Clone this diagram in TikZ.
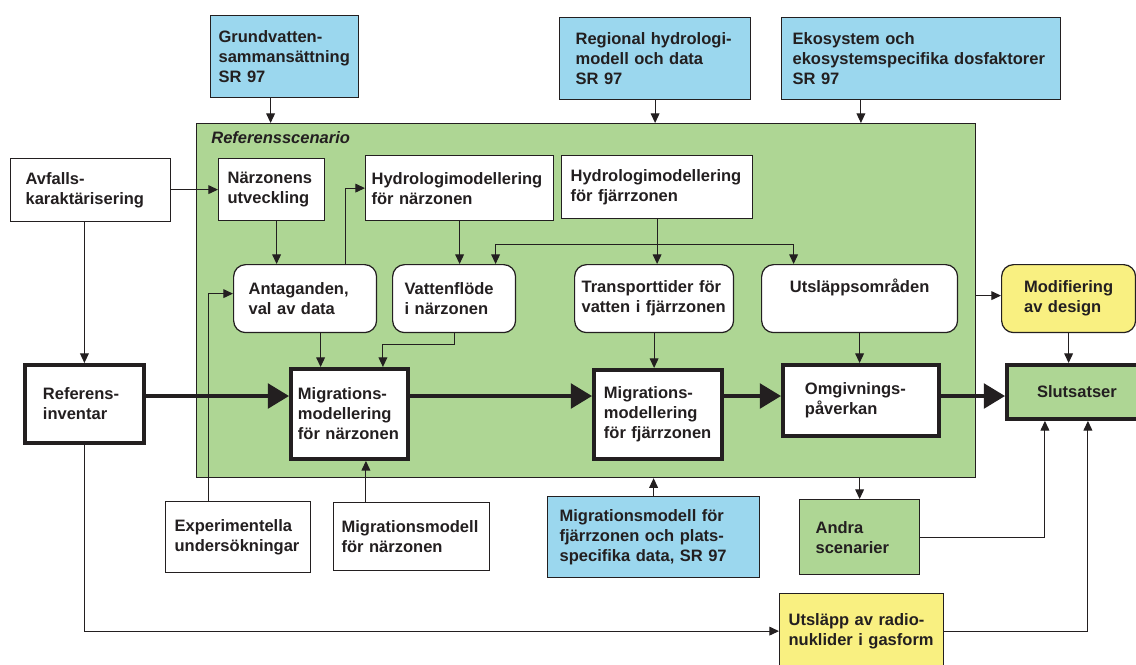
\documentclass[tikz,border=0pt]{standalone}
\usepackage{fontspec}
\setmainfont{Liberation Sans}
\usetikzlibrary{arrows.meta, calc}
\definecolor{ink}{RGB}{35,31,32}
\definecolor{scengreen}{RGB}{174,214,148}
\definecolor{inblue}{RGB}{155,215,238}
\definecolor{outyellow}{RGB}{249,240,129}

\begin{document}
\begin{tikzpicture}[x=0.02cm, y=-0.02cm, line join=miter,
	font=\fontsize{9.4}{11.4}\selectfont\bfseries,
	plainbox/.style={draw=ink, text=ink, line width=0.7pt, fill=white,
		anchor=north west, align=left, inner ysep=0pt},
	softbox/.style={plainbox, rounded corners=0.24cm},
	heavybox/.style={plainbox, line width=2.2pt},
	arr/.style={draw=ink, line width=0.6pt, -{Triangle[length=5.5pt,width=5pt]}},
	bigarr/.style={draw=ink, line width=2pt, -{Triangle[length=12pt,width=14pt]}}]
\useasboundingbox (0,0) rectangle (1136,664);

%========================
% Reference scenario frame
%========================
\node[plainbox, fill=scengreen, minimum width=15.58cm, minimum height=7.08cm, inner sep=0pt]
	(scen) at (196,123) {};
\node[anchor=west, text=ink, font=\fontsize{9.4}{11.4}\selectfont\bfseries\itshape, inner sep=0pt]
	(scentitle) at (211,138) {Referensscenario};

%========================
% Input data (top)
%========================
\node[plainbox, fill=inblue, text width=2.64cm, inner xsep=0.16cm, minimum height=1.64cm]
	(grund) at (210,15) {Grundvatten-\\sammansättning\\SR 97};
\node[plainbox, fill=inblue, text width=3.18cm, inner xsep=0.32cm, minimum height=1.64cm]
	(regional) at (559,17) {Regional hydrologi-\\modell och data\\SR 97};
\node[plainbox, fill=inblue, text width=5.14cm, inner xsep=0.22cm, minimum height=1.64cm]
	(ekosys) at (781,17) {Ekosystem och\\ekosystemspecifika dosfaktorer\\SR 97};

% left column
\node[plainbox, text width=2.6cm, inner xsep=0.3cm, minimum height=1.26cm]
	(avfall) at (10,158) {Avfalls-\\karaktärisering};
\node[heavybox, text width=1.66cm, inner xsep=0.36cm, minimum height=1.56cm]
	(refinv) at (23,363) {Referens-\\inventar};

%========================
% Inside the scenario
%========================
\node[plainbox, text width=1.76cm, inner xsep=0.18cm, minimum height=1.24cm]
	(narutv) at (218,158) {Närzonens\\utveckling};
\node[plainbox, text width=3.52cm, inner xsep=0.12cm, minimum height=1.3cm]
	(hydnar) at (365,155) {Hydrologimodellering\\för närzonen};
\node[plainbox, text width=3.46cm, inner xsep=0.18cm, minimum height=1.26cm]
	(hydfjarr) at (561,155) {Hydrologimodellering\\för fjärrzonen};

\node[softbox, text width=2.26cm, inner xsep=0.3cm, minimum height=1.36cm]
	(antag) at (233,264) {Antaganden,\\val av data};
\node[softbox, text width=1.98cm, inner xsep=0.24cm, minimum height=1.36cm]
	(vatten) at (392,264) {Vattenflöde\\i närzonen};
\node[softbox, text width=2.9cm, inner xsep=0.14cm, minimum height=1.36cm]
	(transp) at (574,264) {Transporttider för\\vatten i fjärrzonen};
\node[softbox, align=center, text width=3.52cm, inner xsep=0.2cm, minimum height=1.36cm]
	(utslomr) at (761,264) {\strut Utsläppsområden\\\strut};

\node[heavybox, text width=2.06cm, inner xsep=0.14cm, minimum height=1.8cm]
	(migrnar) at (289,367) {Migrations-\\modellering\\för närzonen};
\node[heavybox, text width=2.16cm, inner xsep=0.2cm, minimum height=1.78cm]
	(migrfjarr) at (592,368) {Migrations-\\modellering\\för fjärrzonen};
\node[heavybox, text width=2.24cm, inner xsep=0.44cm, minimum height=1.42cm]
	(omgiv) at (781,363) {Omgivnings-\\påverkan};

%========================
% Right: results
%========================
\node[softbox, fill=outyellow, text width=1.78cm, inner xsep=0.45cm, minimum height=1.36cm]
	(modif) at (1001,264) {Modifiering\\av design};
\node[heavybox, fill=scengreen, align=center, text width=2cm, inner xsep=0.4cm, minimum height=1.08cm]
	(slut) at (1005,363) {Slutsatser};

%========================
% Bottom row
%========================
\node[plainbox, text width=2.54cm, inner xsep=0.18cm, minimum height=1.42cm]
	(exper) at (165,501) {Experimentella\\undersökningar};
\node[plainbox, text width=2.8cm, inner xsep=0.16cm, minimum height=1.36cm]
	(migmodnar) at (333,502) {Migrationsmodell\\för närzonen};
\node[plainbox, fill=inblue, text width=3.76cm, inner xsep=0.24cm, minimum height=1.62cm]
	(migmodfj) at (547,496) {Migrationsmodell för\\fjärrzonen och plats-\\specifika data, SR 97};
\node[plainbox, fill=scengreen, text width=1.76cm, inner xsep=0.32cm, minimum height=1.5cm]
	(andra) at (799,499) {Andra\\scenarier};
\node[plainbox, fill=outyellow, text width=2.92cm, inner xsep=0.18cm, minimum height=1.5cm]
	(utslradio) at (779,593) {Utsläpp av radio-\\nuklider i gasform};

%========================
% Connectors
%========================
% helper points
\coordinate (mainln) at (0,396);
\coordinate (gx) at ([xshift=-0.28cm]grund.south);
\coordinate (nx) at ([xshift=0.1cm]narutv.south);
\coordinate (ax) at ([xshift=0.31cm]antag.south);
\coordinate (mnx) at ([xshift=0.33cm]migrnar.south);
\coordinate (mdx) at ([yshift=0.06cm]modif.west);
\coordinate (jn) at ($(hydfjarr.south)+(0,-0.5cm)$);

% data into the scenario
\draw[arr] (gx) -- (gx |- scen.north);
\draw[arr] (regional.south) -- (regional.south |- scen.north);
\draw[arr] (ekosys.south -| omgiv) -- (scen.north -| omgiv);
\draw[arr] (avfall.east |- narutv.west) -- (narutv.west);
\draw[arr] (avfall.south -| refinv) -- (refinv.north);

% near field
\draw[arr] (nx) -- (nx |- antag.north);
\draw[arr] ([xshift=0.81cm]antag.north) |- (hydnar.west);
\draw[arr] (hydnar.south) -- (hydnar.south |- vatten.north);
\draw[arr] (ax) -- (ax |- migrnar.north);
\draw[arr] (vatten.south) -- ++(0,-0.22cm) -| ([xshift=0.67cm]migrnar.north);
\draw[arr] ([xshift=-0.59cm]exper.north) |- ([yshift=0.1cm]antag.west);
\draw[arr] (mnx |- migmodnar.north) -- (mnx);

% far field
\draw[arr] (hydfjarr.south) -- (hydfjarr.south |- transp.north);
\draw[arr] (jn) -| ([xshift=0.83cm]vatten.north);
\draw[arr] (jn) -| ([xshift=-1.32cm]utslomr.north);
\draw[arr] (transp.south) -- (transp.south |- migrfjarr.north);
\draw[arr] (utslomr.south) -- (utslomr.south |- omgiv.north);
\draw[arr] (migmodfj.north) -- (migmodfj.north |- scen.south);

% main chain
\draw[bigarr] (refinv.east |- mainln) -- (migrnar.west |- mainln);
\draw[bigarr] (migrnar.east |- mainln) -- (migrfjarr.west |- mainln);
\draw[bigarr] (migrfjarr.east |- mainln) -- (omgiv.west |- mainln);
\draw[bigarr] (omgiv.east |- mainln) -- (slut.west |- mainln);

% towards conclusions
\draw[arr] (scen.east |- mdx) -- (mdx);
\draw[arr] (modif.south) -- (modif.south |- slut.north);
\draw[arr] (scen.south -| andra) -- (andra.north);
\draw[arr] (andra.east) -| ([xshift=-0.64cm]slut.south);
\draw[arr] (refinv.south) |- (utslradio.west);
\draw[arr] (utslradio.east) -| ([xshift=0.22cm]slut.south);
\end{tikzpicture}
\end{document}
